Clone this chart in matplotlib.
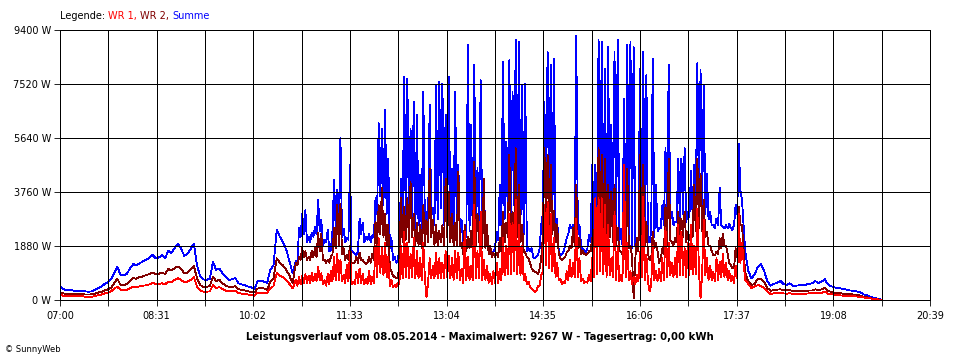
import numpy as np
import matplotlib
matplotlib.use('Agg')
import matplotlib.pyplot as plt

# ---------------- data ----------------
STEP_MIN = 3  # sampling interval in minutes, starting 07:00

# main readings every 3 minutes (07:00 ... 19:54)
summe = [
    460, 380, 330, 350, 330, 320, 330, 310, 300, 290,
    300, 350, 420, 460, 560, 620, 720, 930, 1150, 880,
    860, 920, 1100, 1250, 1200, 1280, 1340, 1400, 1470, 1570,
    1460, 1480, 1560, 1450, 1720, 1640, 1820, 1950, 1780, 1540,
    1600, 1780, 1960, 1200, 820, 720, 700, 740, 1330, 1050,
    1100, 920, 800, 700, 720, 770, 580, 540, 520, 470,
    440, 380, 650, 680, 640, 600, 1050, 1200, 2440, 2200,
    2000, 1750, 1350, 930, 1350, 2500, 3000, 3130, 2200, 2350,
    2550, 3480, 2780, 2100, 2440, 1740, 4180, 3830, 5630, 2490,
    2150, 4700, 1680, 1570, 2840, 2700, 2200, 2300, 2250, 3540,
    6150, 5970, 6610, 4930, 2150, 1500, 1330, 4230, 7770, 7710,
    5970, 6900, 6440, 4350, 7250, 3070, 6790, 3200, 7480, 7600,
    7540, 6440, 7770, 4580, 7250, 4700, 2800, 2500, 8900, 6090,
    8180, 4600, 7650, 4000, 2400, 1680, 1680, 2380, 4000, 8280,
    5510, 8350, 7250, 9050, 8990, 7480, 7540, 1800, 1800, 1450,
    1570, 2610, 6900, 8640, 8180, 8400, 2840, 1570, 1680, 2150,
    2610, 2610, 9200, 2610, 1800, 1680, 2260, 4700, 4700, 9050,
    8990, 8060, 8820, 6090, 8640, 9050, 2490, 7000, 8880, 8990,
    8800, 2000, 8060, 8640, 7830, 2000, 8400, 4000, 2500, 3300,
    5300, 8180, 3070, 2730, 4930, 4930, 5280, 3070, 4500, 4700,
    8240, 8000, 7480, 4400, 3070, 2610, 2840, 3900, 2550, 2600,
    2650, 2440, 3300, 5450, 3500, 1700, 1000, 750, 900, 1160,
    1250, 1000, 640, 500, 560, 600, 670, 560, 520, 580,
    500, 500, 510, 510, 530, 560, 580, 660, 590, 640,
    720, 540, 480, 440, 420, 400, 380, 360, 330, 320,
    300, 280, 200, 170, 120, 90, 60, 40, 0,
]

wr1 = [
    175, 150, 140, 150, 140, 130, 140, 130, 110, 100,
    110, 140, 170, 190, 230, 260, 300, 400, 460, 350,
    340, 360, 420, 460, 440, 480, 500, 510, 540, 600,
    560, 560, 580, 550, 640, 620, 700, 760, 690, 620,
    640, 700, 800, 460, 330, 290, 290, 300, 520, 420,
    450, 380, 330, 300, 300, 320, 240, 220, 210, 190,
    180, 140, 250, 260, 240, 240, 420, 480, 930, 850,
    790, 680, 560, 400, 700, 810, 850, 900, 850, 930,
    900, 1160, 930, 700, 900, 1000, 1500, 1600, 1400, 870,
    1220, 1680, 640, 990, 1100, 900, 750, 1000, 800, 1900,
    2150, 1800, 2000, 1500, 700, 520, 600, 1900, 2380, 2000,
    1600, 2150, 1700, 1450, 2000, 100, 1450, 1200, 1650, 1450,
    1300, 1700, 1550, 1450, 1700, 1650, 1100, 2380, 1500, 1200,
    3300, 1700, 3070, 1400, 1200, 900, 1000, 1300, 1100, 2150,
    1900, 3000, 2700, 3500, 2600, 1900, 900, 640, 410, 290,
    500, 870, 3300, 3400, 3000, 2150, 1300, 750, 640, 1000,
    1400, 1300, 2840, 1450, 750, 640, 870, 1450, 3540, 3540,
    3540, 3300, 2610, 1450, 3070, 1900, 880, 4700, 2000, 1000,
    800, 870, 1680, 3600, 1570, 300, 1900, 1000, 1100, 1450,
    2500, 2000, 1300, 1450, 2610, 2380, 1800, 2000, 2610, 1900,
    3190, 60, 2800, 1450, 1200, 990, 1450, 1330, 1600, 1300,
    1000, 850, 1200, 3000, 2000, 700, 560, 410, 470, 520,
    490, 410, 290, 210, 230, 240, 250, 230, 220, 240,
    210, 210, 220, 220, 220, 230, 230, 250, 230, 250,
    290, 220, 200, 180, 170, 160, 150, 150, 140, 130,
    120, 110, 90, 80, 60, 40, 30, 15, 0,
]

wr2 = [
    255, 230, 210, 220, 210, 200, 210, 200, 190, 190,
    200, 220, 260, 280, 330, 370, 420, 580, 740, 520,
    520, 560, 680, 760, 740, 800, 820, 870, 900, 960,
    900, 910, 960, 900, 1080, 1030, 1110, 1170, 1080, 930,
    950, 1070, 1180, 760, 520, 460, 460, 480, 810, 660,
    700, 580, 500, 460, 460, 480, 380, 350, 330, 300,
    280, 260, 400, 420, 400, 360, 640, 760, 1450, 1300,
    1200, 1050, 850, 580, 1300, 1500, 1800, 1700, 1500, 1700,
    1800, 2320, 2300, 1400, 1400, 1500, 2500, 3300, 3360, 1800,
    1570, 1900, 1300, 1500, 1650, 1400, 1250, 1500, 1600, 2730,
    3300, 3890, 3000, 2610, 990, 800, 750, 3540, 3250, 3540,
    4120, 3000, 2700, 2600, 3300, 2800, 4580, 2800, 2600, 2400,
    2600, 4230, 3770, 3000, 2700, 4470, 2000, 2600, 2200, 2400,
    4810, 3000, 2700, 4230, 2600, 1900, 1650, 1650, 2150, 3070,
    2700, 5050, 3070, 5280, 4000, 2600, 1650, 1450, 1100, 990,
    900, 1450, 5280, 5050, 4700, 3100, 2600, 1450, 1450, 1650,
    1900, 2500, 4000, 2150, 1700, 1570, 1700, 2150, 3300, 5280,
    5050, 4930, 4000, 3770, 4000, 2500, 1680, 3500, 4580, 1900,
    60, 2150, 5050, 4700, 2730, 1400, 2380, 2000, 1300, 1800,
    3300, 4930, 2000, 2150, 3070, 2840, 3070, 2380, 2380, 4000,
    4930, 4400, 3500, 2380, 1900, 1570, 1680, 2150, 2300, 1900,
    1300, 1100, 1800, 3250, 2600, 950, 640, 520, 560, 750,
    740, 620, 410, 320, 340, 360, 370, 350, 330, 340,
    310, 300, 300, 310, 320, 330, 330, 370, 340, 370,
    430, 320, 280, 250, 240, 230, 220, 210, 200, 190,
    170, 160, 120, 100, 70, 50, 40, 20, 0,
]

# extra in-between readings (1.5 min after each main reading) for the
# fluctuating period starting at main index MID_START (10:42)
MID_START = 74
summe_mid = [
    1300, 2200, 2300, 2000, 2000, 2200, 2300, 2400, 1900, 2000,
    1700, 2400, 2500, 2700, 2200, 2000, 2100, 1700, 1600, 1700,
    2300, 2000, 2100, 2000, 2200, 3000, 3600, 3300, 3000, 1800,
    1400, 1300, 1900, 2400, 2700, 2500, 2800, 2300, 2600, 2400,
    2600, 2700, 2900, 2600, 2800, 3200, 2600, 2800, 2600, 2500,
    2600, 2300, 2000, 2200, 2400, 2300, 2200, 2500, 2300, 2100,
    1800, 1600, 1800, 2100, 2600, 2800, 3100, 2600, 3300, 2900,
    2700, 2300, 1700, 1700, 1500, 1500, 1800, 3000, 3300, 3000,
    2900, 2500, 1700, 1600, 1900, 2300, 2500, 2600, 2300, 1900,
    1700, 1800, 2000, 2400, 2600, 2700, 2300, 2100, 2500, 2400,
    2200, 2000, 1900, 2300, 2100, 1800, 1900, 2100, 2400, 2200,
    2000, 2400, 2200, 2400, 2500, 2600, 2700, 2800, 2600, 2700,
    2800, 3000, 2700, 2900, 3000, 3200, 3400, 3300, 3000, 2800,
    2600, 2500, 2600, 2600, 2500, 2500, 2500, 2600, 3000, 3800,
]
wr1_mid = [
    500, 550, 600, 600, 600, 650, 650, 700, 550, 500,
    550, 650, 700, 700, 650, 600, 650, 550, 550, 600,
    600, 550, 550, 550, 600, 800, 950, 850, 800, 500,
    450, 450, 550, 750, 800, 750, 800, 750, 750, 700,
    750, 600, 750, 750, 750, 750, 750, 800, 750, 700,
    750, 700, 600, 700, 700, 700, 750, 750, 700, 700,
    600, 550, 600, 600, 700, 850, 900, 900, 1000, 900,
    850, 700, 550, 450, 330, 330, 500, 1000, 1200, 1100,
    1000, 800, 700, 550, 600, 700, 800, 800, 800, 650,
    600, 600, 650, 800, 900, 1000, 900, 800, 850, 800,
    700, 650, 650, 800, 700, 550, 550, 650, 800, 700,
    650, 500, 700, 650, 650, 700, 800, 850, 800, 800,
    850, 850, 800, 850, 900, 900, 1000, 900, 850, 700,
    700, 650, 700, 800, 800, 700, 650, 600, 750, 1300,
]
wr2_mid = [
    1200, 1400, 1500, 1400, 1400, 1500, 1500, 1700, 1400, 1300,
    1300, 1600, 1800, 1900, 1600, 1400, 1400, 1300, 1300, 1300,
    1400, 1300, 1300, 1300, 1400, 1900, 2300, 2200, 1900, 1100,
    850, 750, 1300, 2000, 2100, 2000, 2200, 1900, 1900, 1800,
    1900, 2000, 2200, 1900, 1900, 2000, 1900, 2200, 2000, 1900,
    1900, 1900, 1600, 1700, 1800, 1700, 1900, 2000, 1800, 1800,
    1600, 1500, 1500, 1500, 1700, 2000, 2200, 2200, 2400, 2200,
    2000, 1700, 1500, 1300, 1000, 950, 1100, 2200, 2600, 2500,
    2300, 2000, 1600, 1400, 1500, 1700, 1800, 1900, 1800, 1600,
    1600, 1600, 1700, 1900, 2100, 2400, 2300, 2100, 2200, 2000,
    1900, 1700, 1600, 1900, 1800, 1500, 1400, 1700, 2000, 1900,
    1600, 1400, 1800, 1700, 1400, 1600, 1900, 2100, 1900, 2000,
    2100, 2200, 2000, 2100, 2200, 2400, 2500, 2400, 2200, 1900,
    1700, 1550, 1600, 1800, 1900, 1600, 1200, 1100, 1500, 2600,
]

x_labels = ['07:00', '08:31', '10:02', '11:33', '13:04',
            '14:35', '16:06', '17:37', '19:08', '20:39']
y_ticks = [0, 1880, 3760, 5640, 7520, 9400]
y_labels = ['0 W', '1880 W', '3760 W', '5640 W', '7520 W', '9400 W']

legend_parts = [('Legende:', '#000000'), ('WR 1,', '#FF0000'),
                ('WR 2,', '#800000'), ('Summe', '#0000FF')]
title = 'Leistungsverlauf vom 08.05.2014 - Maximalwert: 9267 W - Tagesertrag: 0,00 kWh'
footer = '\u00a9 SunnyWeb'


# ---------------- helpers ----------------
def to_min(s):
    h, m = s.split(':')
    return (int(h) - 7) * 60 + int(m)


def build(main, mid):
    ts, vs = [], []
    for i, v in enumerate(main):
        ts.append(i * STEP_MIN)
        vs.append(v)
        j = i - MID_START
        if 0 <= j < len(mid):
            ts.append(i * STEP_MIN + STEP_MIN / 2)
            vs.append(mid[j])
    return np.array(ts), np.array(vs)


x_major = [to_min(s) for s in x_labels]
x_minor = [(a + b) / 2 for a, b in zip(x_major[:-1], x_major[1:])]

# ---------------- plot ----------------
W, H = 960, 360
fig = plt.figure(figsize=(W / 100, H / 100), dpi=100)
fig.patch.set_facecolor('white')
ax = fig.add_axes([60 / W, 60 / H, 870 / W, 270 / H])

lw = 0.6
for main, mid, col, z in [(summe, summe_mid, '#0000FF', 2.0),
                          (wr2, wr2_mid, '#800000', 2.1),
                          (wr1, wr1_mid, '#FF0000', 2.2)]:
    tt, vv = build(main, mid)
    ax.plot(tt, vv, color=col, lw=lw, antialiased=False, zorder=z)

ax.set_xlim(x_major[0], x_major[-1])
ax.set_ylim(y_ticks[0], y_ticks[-1])
ax.set_xticks(x_major)
ax.set_xticklabels(x_labels)
ax.set_xticks(x_minor, minor=True)
ax.set_yticks(y_ticks)
ax.set_yticklabels(y_labels)

ax.set_axisbelow(False)
ax.grid(which='both', color='black', lw=0.6, antialiased=False)
for sp in ax.spines.values():
    sp.set_color('black')
    sp.set_linewidth(0.6)
    sp.set_antialiased(False)

ax.tick_params(axis='both', which='both', direction='out', length=4,
               width=0.6, color='black', labelsize=7, labelcolor='black')
ax.tick_params(axis='x', which='both', pad=4)
ax.tick_params(axis='y', pad=2.5)

fig.text(0.5, 1 - 337 / H, title, ha='center', va='center',
         fontsize=7.3, fontweight='bold',
         family=['Liberation Sans Narrow', 'DejaVu Sans'])
fig.text(5 / W, 1 - 349 / H, footer, ha='left', va='center', fontsize=6)

renderer = fig.canvas.get_renderer()
xp = 60
for s, c in legend_parts:
    tx = fig.text(xp / W, 1 - 16 / H, s, color=c, ha='left', va='center',
                  fontsize=7)
    bb = tx.get_window_extent(renderer)
    xp = bb.x1 + 3

fig.savefig('out.png', dpi=100)
